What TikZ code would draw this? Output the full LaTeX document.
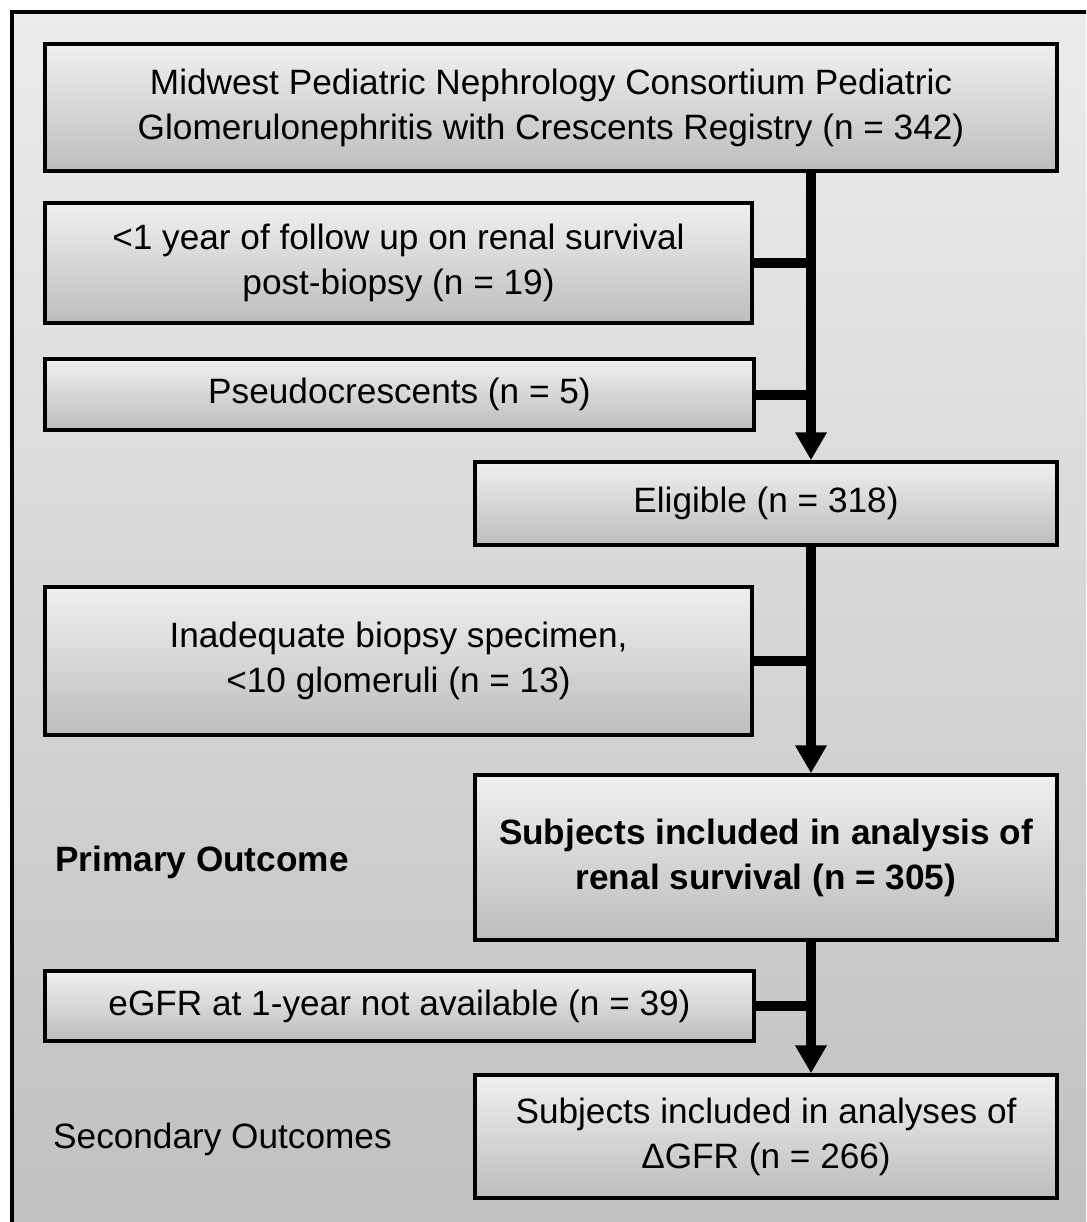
\documentclass[tikz,border=0pt]{standalone}
\usepackage{fontspec}
\setmainfont{Liberation Sans}
\usetikzlibrary{arrows.meta}
\definecolor{bgtop}{HTML}{ECECEC}
\definecolor{bgbot}{HTML}{C0C0C0}
\definecolor{boxtop}{HTML}{F0F0F0}
\definecolor{boxbot}{HTML}{BDBDBD}
\tikzset{
  fbox/.style={draw=black, line width=3.5pt, top color=boxtop, bottom color=boxbot,
    inner sep=0pt, align=center, font=\fontsize{35.2}{45}\selectfont},
  conn/.style={line width=10pt},
  lbl/.style={anchor=west, inner sep=0pt, font=\fontsize{35.2}{45}\selectfont},
}
\begin{document}
\begin{tikzpicture}[x=1pt,y=-1pt]
\useasboundingbox (0,0) rectangle (1086,1222);
\clip (0,0) rectangle (1086,1222);
\fill[white] (0,0) rectangle (1086,1222);
\shade[top color=bgtop, bottom color=bgbot] (12,12) rectangle (1100,1240);
\draw[line width=4pt] (12,1240) -- (12,12) -- (1100,12);

\node[fbox, minimum width=1012pt, minimum height=127pt] (reg) at (551,107.5)
  {Midwest Pediatric Nephrology Consortium Pediatric\\Glomerulonephritis with Crescents Registry (n = 342)};
\node[fbox, minimum width=707pt, minimum height=120pt] (fu) at (398.5,263)
  {<1 year of follow up on renal survival\\post-biopsy (n = 19)};
\node[fbox, minimum width=709pt, minimum height=71pt] (pseudo) at (399.5,394.5)
  {Pseudocrescents (n = 5)};
\node[fbox, minimum width=582pt, minimum height=83pt] (elig) at (766,503.5)
  {Eligible (n = 318)};
\node[fbox, minimum width=707pt, minimum height=148pt] (inad) at (398.5,661)
  {Inadequate biopsy specimen,\\<10 glomeruli (n = 13)};
\node[fbox, minimum width=582pt, minimum height=165pt, font=\fontsize{35.2}{45}\selectfont\bfseries] (prim) at (766,857.5)
  {Subjects included in analysis of\\renal survival (n = 305)};
\node[fbox, minimum width=709pt, minimum height=70pt] (egfr) at (399.5,1006)
  {eGFR at 1-year not available (n = 39)};
\node[fbox, minimum width=582pt, minimum height=123pt] (sec) at (766,1136.5)
  {Subjects included in analyses of\\ΔGFR (n = 266)};

\node[lbl, font=\fontsize{35.2}{45}\selectfont\bfseries] (plab) at (55,862) {Primary Outcome};
\node[lbl] (slab) at (53,1139) {Secondary Outcomes};

\coordinate (spine) at (811,0);
\draw[conn, -{Triangle[width=30pt,length=28pt]}] (reg.south -| spine) -- (elig.north -| spine);
\draw[conn] (fu.east) -- (fu.east -| spine);
\draw[conn] (pseudo.east) -- (pseudo.east -| spine);
\draw[conn, -{Triangle[width=30pt,length=28pt]}] (elig.south -| spine) -- (prim.north -| spine);
\draw[conn] (inad.east) -- (inad.east -| spine);
\draw[conn, -{Triangle[width=30pt,length=28pt]}] (prim.south -| spine) -- (sec.north -| spine);
\draw[conn] (egfr.east) -- (egfr.east -| spine);
\end{tikzpicture}
\end{document}
